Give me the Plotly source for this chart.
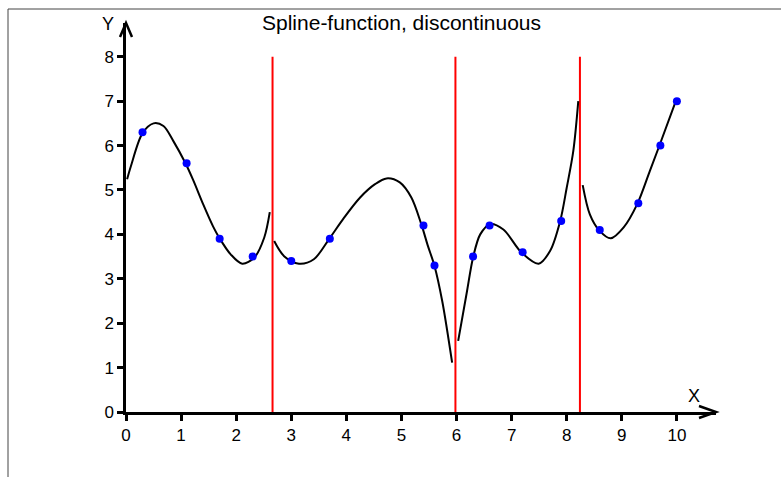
import plotly.graph_objects as go

# Data points
pts_x = [0.3, 1.1, 1.7, 2.3, 3.0, 3.7, 5.4, 5.6, 6.3, 6.6, 7.2, 7.9, 8.6, 9.3, 9.7, 10.0]
pts_y = [6.3, 5.6, 3.9, 3.5, 3.4, 3.9, 4.2, 3.3, 3.5, 4.2, 3.6, 4.3, 4.1, 4.7, 6.0, 7.0]

# Break positions (red lines)
breaks = [2.66, 5.98, 8.24]

# Spline curve samples per segment
seg1_x = [0.02, 0.09, 0.30, 0.50, 0.68, 0.86, 1.08, 1.22, 1.40, 1.58, 1.69, 1.90, 2.11, 2.33, 2.51, 2.61]
seg1_y = [5.24, 5.54, 6.28, 6.50, 6.44, 6.10, 5.60, 5.22, 4.68, 4.18, 3.93, 3.55, 3.34, 3.48, 3.93, 4.50]
seg2_x = [2.69, 2.87, 3.14, 3.41, 3.69, 3.95, 4.25, 4.52, 4.73, 4.97, 5.18, 5.36, 5.48, 5.60, 5.74, 5.92]
seg2_y = [3.85, 3.51, 3.34, 3.44, 3.90, 4.36, 4.83, 5.13, 5.26, 5.17, 4.83, 4.23, 3.74, 3.29, 2.50, 1.11]
seg3_x = [6.03, 6.19, 6.30, 6.43, 6.61, 6.85, 7.18, 7.49, 7.70, 7.88, 8.00, 8.12, 8.21]
seg3_y = [1.60, 2.72, 3.48, 4.00, 4.23, 4.11, 3.59, 3.34, 3.63, 4.29, 5.05, 5.88, 7.00]
seg4_x = [8.29, 8.42, 8.59, 8.80, 9.03, 9.28, 9.51, 9.68, 9.98]
seg4_y = [5.11, 4.45, 4.09, 3.91, 4.15, 4.68, 5.43, 5.99, 7.00]

x_ticks = list(range(0, 11))
y_ticks = list(range(0, 9))
title_text = "Spline-function, discontinuous"

X_MAX = 10.71
Y_MAX = 8.76
BREAK_TOP = 8.0

FONT = "Liberation Sans, Arial, sans-serif"

# plot-area geometry in pixels (for paper placement of decorations)
L, R, T, B = 126, 716, 23, 412
PW, PH = R - L, B - T


def px_x(p):
    return (p - L) / PW


def px_y(p):
    return (B - p) / PH


fig = go.Figure()

# red break lines
bx, by = [], []
for b in breaks:
    bx += [b, b, None]
    by += [0, BREAK_TOP, None]
fig.add_trace(go.Scatter(x=bx, y=by, mode="lines",
                         line=dict(color="#FF0000", width=2),
                         hoverinfo="skip", showlegend=False))

for sx, sy in [(seg1_x, seg1_y), (seg2_x, seg2_y), (seg3_x, seg3_y), (seg4_x, seg4_y)]:
    fig.add_trace(go.Scatter(x=sx, y=sy, mode="lines",
                             line=dict(color="black", width=2, shape="spline", smoothing=0.9),
                             hoverinfo="skip", showlegend=False))

fig.add_trace(go.Scatter(x=pts_x, y=pts_y, mode="markers",
                         marker=dict(color="#0000FF", size=8),
                         showlegend=False))

axis_common = dict(showgrid=False, zeroline=False, showline=True, linecolor="black", linewidth=2.5,
                   ticks="outside", ticklen=6, tickwidth=2.5, tickcolor="black",
                   tickfont=dict(family=FONT, size=17, color="black"))

fig.update_layout(
    width=781, height=477,
    margin=dict(l=L, r=781 - R, t=T, b=477 - B),
    paper_bgcolor="white", plot_bgcolor="white",
    font=dict(family=FONT, size=17, color="black"),
    showlegend=False,
    xaxis=dict(range=[0, X_MAX], tickvals=x_ticks, ticktext=[str(v) for v in x_ticks], **axis_common),
    yaxis=dict(range=[0, Y_MAX], tickvals=y_ticks, ticktext=[str(v) for v in y_ticks], **axis_common),
    annotations=[
        dict(text=title_text, xref="paper", yref="paper", x=px_x(401), y=px_y(22),
             xanchor="center", yanchor="middle", showarrow=False,
             font=dict(family=FONT, size=21, color="black")),
        dict(text="X", xref="paper", yref="paper", x=px_x(694), y=px_y(396),
             xanchor="center", yanchor="middle",
             showarrow=False, font=dict(family=FONT, size=18, color="black")),
        dict(text="Y", xref="paper", yref="paper", x=px_x(108), y=px_y(24),
             xanchor="center", yanchor="middle",
             showarrow=False, font=dict(family=FONT, size=18, color="black")),
    ],
    shapes=[
        # arrowheads (paper-referenced so they are not clipped)
        dict(type="path", xref="paper", yref="paper", xsizemode="pixel", ysizemode="pixel",
             xanchor=1, yanchor=0, path="M -17 -6 L 0 0 L -17 6",
             line=dict(color="black", width=2.5)),
        dict(type="path", xref="paper", yref="paper", xsizemode="pixel", ysizemode="pixel",
             xanchor=0, yanchor=1, path="M -6 -14 L 0 0 L 6 -14",
             line=dict(color="black", width=2.5)),
        # frame (left and top)
        dict(type="line", xref="paper", yref="paper", x0=px_x(8), x1=px_x(8),
             y0=px_y(9), y1=px_y(480), line=dict(color="#444444", width=1)),
        dict(type="line", xref="paper", yref="paper", x0=px_x(8), x1=px_x(790),
             y0=px_y(9), y1=px_y(9), line=dict(color="#444444", width=1)),
    ],
)

fig.write_html("out.html")
